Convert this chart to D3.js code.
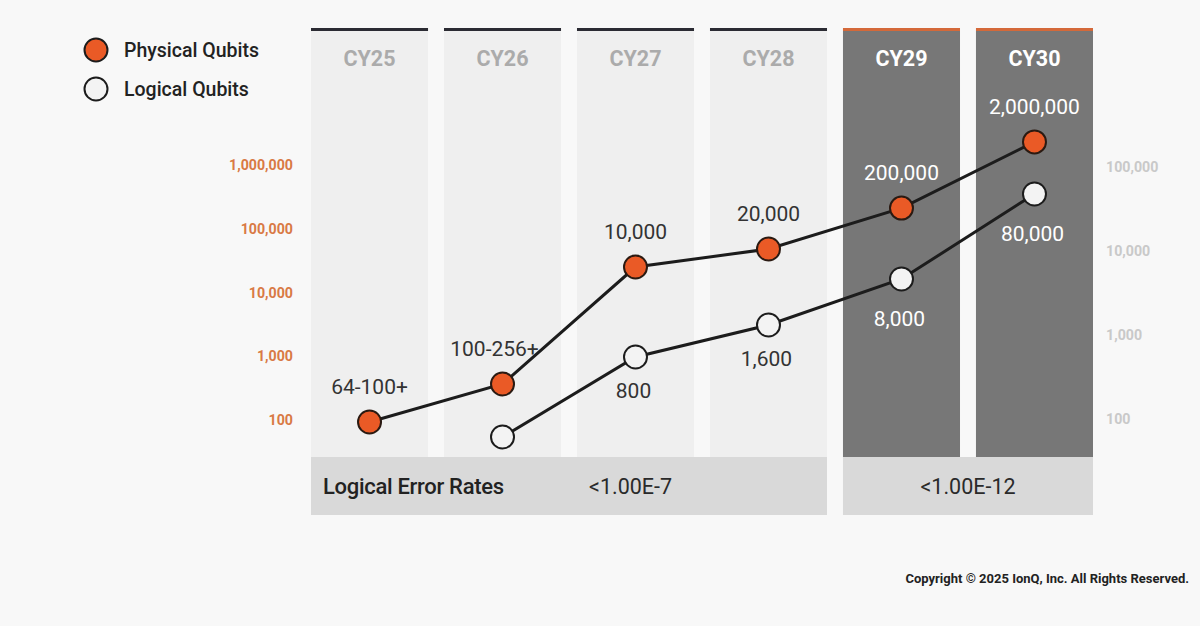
<!DOCTYPE html>
<html>
<head>
<meta charset="utf-8">
<script src="https://cdn.jsdelivr.net/npm/d3@7"></script>
<style>
    body { margin: 0; background: #f8f8f8; }
    svg { display: block; font-family: Roboto, "Noto Sans", sans-serif; }
</style>
</head>
<body>
<div id="chart"></div>
<script>
// years shown as columns, the last two are highlighted
const years = ["CY25", "CY26", "CY27", "CY28", "CY29", "CY30"];
const highlightYears = ["CY29", "CY30"];

// physical qubits (left axis)
const physicalValues = [93, 367, 25100, 48100, 211000, 2300000];
const physicalLabels = ["64-100+", "100-256+", "10,000", "20,000", "200,000", "2,000,000"];

// logical qubits (right axis), none for CY25
const logicalValues = [null, 61, 547, 1315, 4640, 47700];
const logicalLabels = ["", "", "800", "1,600", "8,000", "80,000"];

const leftTicks = [100, 1000, 10000, 100000, 1000000];
const rightTicks = [100, 1000, 10000, 100000];

// error rate bands under the columns
const bandStart = ["CY25", "CY29"];
const bandEnd = ["CY28", "CY30"];
const bandLabels = ["<1.00E-7", "<1.00E-12"];

const width = 1200, height = 626;
const colTop = 31, colBottom = 457, bandBottom = 515;

const svg = d3.select("#chart").append("svg")
    .attr("width", width)
    .attr("height", height);

svg.append("rect").attr("width", width).attr("height", height).attr("fill", "#f8f8f8");

// scales
const x = d3.scaleBand().domain(years).range([311, 1093]).paddingInner(0.12).paddingOuter(0);
const yLeft = d3.scaleLog().domain([100, 1000000]).range([420, 165]);
const yRight = d3.scaleLog().domain([100, 100000]).range([419, 167]);
const cx = d => x(d) + x.bandwidth() / 2;
const isHi = d => highlightYears.includes(d);

// columns
let cols = svg.append("g").selectAll("g").data(years).enter().append("g");
cols.append("rect")
    .attr("x", d => x(d)).attr("y", colTop)
    .attr("width", x.bandwidth()).attr("height", colBottom - colTop)
    .attr("fill", d => isHi(d) ? "#777777" : "#efefef");
cols.append("rect")
    .attr("x", d => x(d)).attr("y", colTop - 3)
    .attr("width", x.bandwidth()).attr("height", 3)
    .attr("fill", d => isHi(d) ? "#d4693a" : "#2b2b33");
cols.append("text").text(d => d)
    .attr("x", d => cx(d)).attr("y", 58)
    .attr("dy", "0.35em").attr("text-anchor", "middle")
    .attr("font-size", 21.5).attr("font-weight", "bold")
    .attr("fill", d => isHi(d) ? "#ffffff" : "#ababab");

// error rate bands
let bands = svg.append("g").selectAll("g").data(bandLabels).enter().append("g");
bands.append("rect")
    .attr("x", (d, i) => x(bandStart[i]))
    .attr("y", colBottom)
    .attr("width", (d, i) => x(bandEnd[i]) + x.bandwidth() - x(bandStart[i]))
    .attr("height", bandBottom - colBottom)
    .attr("fill", "#d9d9d9");
bands.append("text").text(d => d)
    .attr("x", (d, i) => i === 0 ? cx("CY27") - 5 : (x(bandStart[i]) + x(bandEnd[i]) + x.bandwidth()) / 2)
    .attr("y", (colBottom + bandBottom) / 2)
    .attr("dy", "0.35em").attr("text-anchor", "middle")
    .attr("font-size", 21.5).attr("fill", "#2a2a2a");
svg.append("text").text("Logical Error Rates")
    .attr("x", 323).attr("y", (colBottom + bandBottom) / 2)
    .attr("dy", "0.35em").attr("font-size", 22).attr("font-weight", 500)
    .attr("letter-spacing", -0.3).attr("fill", "#222");

// axes
const fmt = d3.format(",");
let leftAxis = svg.append("g").attr("transform", "translate(293,0)")
    .call(d3.axisLeft(yLeft).tickValues(leftTicks).tickFormat(fmt).tickSize(0).tickPadding(0));
leftAxis.select(".domain").remove();
leftAxis.selectAll("text").attr("font-size", 14.2).attr("font-weight", "bold")
    .attr("font-family", "Roboto, sans-serif").attr("fill", "#d97a45");

let rightAxis = svg.append("g").attr("transform", "translate(1106,0)")
    .call(d3.axisRight(yRight).tickValues(rightTicks).tickFormat(fmt).tickSize(0).tickPadding(0));
rightAxis.select(".domain").remove();
rightAxis.selectAll("text").attr("font-size", 14.2).attr("font-weight", "bold")
    .attr("font-family", "Roboto, sans-serif").attr("fill", "#c9c9c9");

// lines
let physData = years.map((d, i) => ({year: d, value: physicalValues[i], label: physicalLabels[i]}));
let logData = years.map((d, i) => ({year: d, value: logicalValues[i], label: logicalLabels[i]}))
    .filter(d => d.value !== null);

let physLine = d3.line().x(d => cx(d.year)).y(d => yLeft(d.value));
let logLine = d3.line().x(d => cx(d.year)).y(d => yRight(d.value));

svg.append("path").datum(physData).attr("d", physLine)
    .attr("fill", "none").attr("stroke", "#1c1c1c").attr("stroke-width", 3);
svg.append("path").datum(logData).attr("d", logLine)
    .attr("fill", "none").attr("stroke", "#1c1c1c").attr("stroke-width", 3);

svg.append("g").selectAll("circle").data(physData).enter().append("circle")
    .attr("cx", d => cx(d.year)).attr("cy", d => yLeft(d.value)).attr("r", 11.5)
    .attr("fill", "#ea5a26").attr("stroke", "#2a1a12").attr("stroke-width", 2);
svg.append("g").selectAll("circle").data(logData).enter().append("circle")
    .attr("cx", d => cx(d.year)).attr("cy", d => yRight(d.value)).attr("r", 11.5)
    .attr("fill", "#f3f3f3").attr("stroke", "#1c1c1c").attr("stroke-width", 2);

// value labels
svg.append("g").selectAll("text").data(physData).enter().append("text")
    .text(d => d.label)
    .attr("x", (d, i) => cx(d.year) - (i === 1 ? 8 : 0))
    .attr("y", d => yLeft(d.value) - 35)
    .attr("dy", "0.35em").attr("text-anchor", "middle")
    .attr("font-size", 21).attr("fill", d => isHi(d.year) ? "#ffffff" : "#333");
svg.append("g").selectAll("text").data(logData.filter(d => d.label !== "")).enter().append("text")
    .text(d => d.label)
    .attr("x", d => cx(d.year) - 2)
    .attr("y", d => yRight(d.value) + (isHi(d.year) ? 40 : 34))
    .attr("dy", "0.35em").attr("text-anchor", "middle")
    .attr("font-size", 21).attr("fill", d => isHi(d.year) ? "#ffffff" : "#333");

// legend
const legendKeys = ["Physical Qubits", "Logical Qubits"];
const legendFill = ["#ea5a26", "#f3f3f3"];
let legend = svg.selectAll(".legend").data(legendKeys).enter().append("g")
    .attr("class", "legend")
    .attr("transform", (d, i) => "translate(96," + (50 + i * 39) + ")");
legend.append("circle").attr("r", 11.5)
    .attr("fill", (d, i) => legendFill[i]).attr("stroke", "#1c1c1c").attr("stroke-width", 2);
legend.append("text").text(d => d)
    .attr("x", 28).attr("dy", "0.35em")
    .attr("font-size", 19.5).attr("font-weight", 500).attr("fill", "#222");

// copyright
svg.append("text").text("Copyright \u00A9 2025 IonQ, Inc. All Rights Reserved.")
    .attr("x", 1189).attr("y", 578).attr("dy", "0.35em")
    .attr("text-anchor", "end").attr("font-size", 13).attr("font-weight", "bold").attr("fill", "#222");
</script>
</body>
</html>
